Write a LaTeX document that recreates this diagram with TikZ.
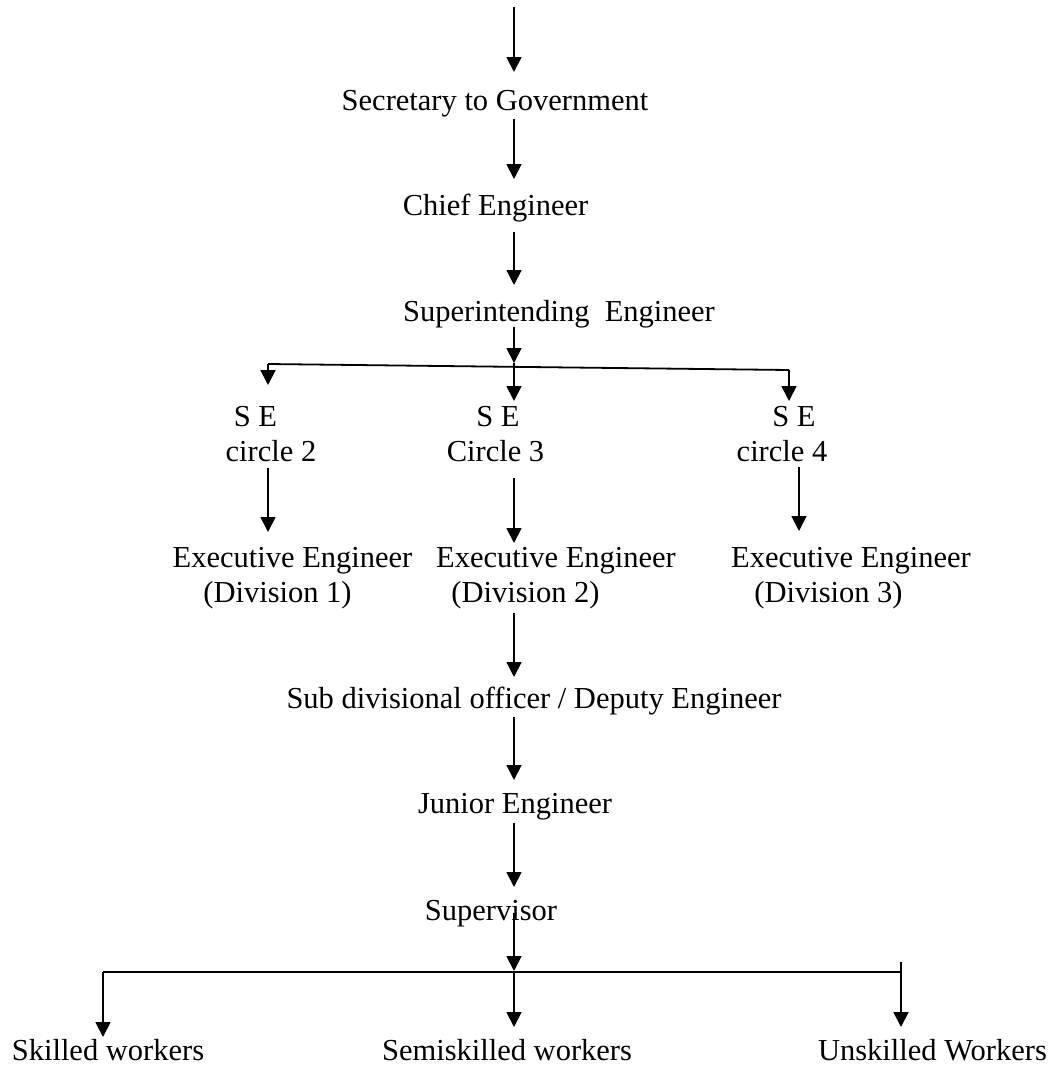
\documentclass[tikz,border=0pt]{standalone}
\usepackage{fontspec}
\setmainfont{Liberation Serif}
\usetikzlibrary{arrows.meta}
\begin{document}
\begin{tikzpicture}[x=1pt,y=-1pt,
  lbl/.style={inner sep=0pt,anchor=base,font=\fontsize{30.5}{36}\selectfont},
  arr/.style={line width=1.8pt,-{Triangle[length=15pt,width=15pt]}},
  ln/.style={line width=1.8pt}]
\useasboundingbox (0,0) rectangle (1050,1066);
% labels
\node[lbl] (sec) at (495,110) {Secretary to Government};
\node[lbl] (chief) at (495.5,215) {Chief Engineer};
\node[lbl] (sup) at (559,321) {Superintending\ \ Engineer};
\node[lbl] (se2a) at (255.5,426) {S E};
\node[lbl] (se2b) at (271,461) {circle 2};
\node[lbl] (se3a) at (498,426) {S E};
\node[lbl] (se3b) at (495.5,461) {Circle 3};
\node[lbl] (se4a) at (794,426) {S E};
\node[lbl] (se4b) at (782,461) {circle 4};
\node[lbl] (ee1a) at (292.5,567) {Executive Engineer};
\node[lbl] (ee1b) at (277.5,602) {(Division 1)};
\node[lbl] (ee2a) at (556,567) {Executive Engineer};
\node[lbl] (ee2b) at (525.5,602) {(Division 2)};
\node[lbl] (ee3a) at (851,567) {Executive Engineer};
\node[lbl] (ee3b) at (828.5,602) {(Division 3)};
\node[lbl] (sdo) at (534,708) {Sub divisional officer / Deputy Engineer};
\node[lbl] (je) at (515,813) {Junior Engineer};
\node[lbl] (sv) at (491,920) {Supervisor};
\node[lbl] (sk) at (108,1060) {Skilled workers};
\node[lbl] (ssk) at (507,1060) {Semiskilled workers};
\node[lbl] (usk) at (932.5,1060) {Unskilled Workers};
% connector coordinates
\coordinate (t0) at (514,7);
\coordinate (t1) at (514,72);
\coordinate (c0) at (514,119);
\coordinate (c1) at (514,179);
\coordinate (s0) at (514,232);
\coordinate (s1) at (514,285);
\coordinate (b0) at (514,327);
\coordinate (b1) at (514,363);
\coordinate (hl) at (268,364);
\coordinate (hr) at (789,370);
\coordinate (l1) at (268,385);
\coordinate (m1) at (514,401);
\coordinate (r1) at (789,401);
\coordinate (d20) at (268,468);
\coordinate (d21) at (268,532);
\coordinate (d30) at (514,478);
\coordinate (d31) at (514,543);
\coordinate (d40) at (799,467);
\coordinate (d41) at (799,531);
\coordinate (e0) at (514,613);
\coordinate (e1) at (514,677);
\coordinate (f0) at (514,717);
\coordinate (f1) at (514,780);
\coordinate (g0) at (514,823);
\coordinate (g1) at (514,887);
\coordinate (h0) at (514,913);
\coordinate (h1) at (514,971);
\coordinate (wl) at (103,972);
\coordinate (wr) at (901,972);
\coordinate (wrt) at (901,962);
\coordinate (w1) at (103,1037);
\coordinate (w2) at (514,1027);
\coordinate (w3) at (901,1027);
% connectors
\draw[arr] (t0) -- (t1);
\draw[arr] (c0) -- (c1);
\draw[arr] (s0) -- (s1);
\draw[arr] (b0) -- (b1);
\draw[ln] (hl) -- (hr);
\draw[arr] (hl) -- (l1);
\draw[arr] (b1) -- (m1);
\draw[arr] (hr) -- (r1);
\draw[arr] (d20) -- (d21);
\draw[arr] (d30) -- (d31);
\draw[arr] (d40) -- (d41);
\draw[arr] (e0) -- (e1);
\draw[arr] (f0) -- (f1);
\draw[arr] (g0) -- (g1);
\draw[arr] (h0) -- (h1);
\draw[ln] (wl) -- (wr);
\draw[arr] (wl) -- (w1);
\draw[arr] (h1) -- (w2);
\draw[arr] (wrt) -- (w3);
\end{tikzpicture}
\end{document}
